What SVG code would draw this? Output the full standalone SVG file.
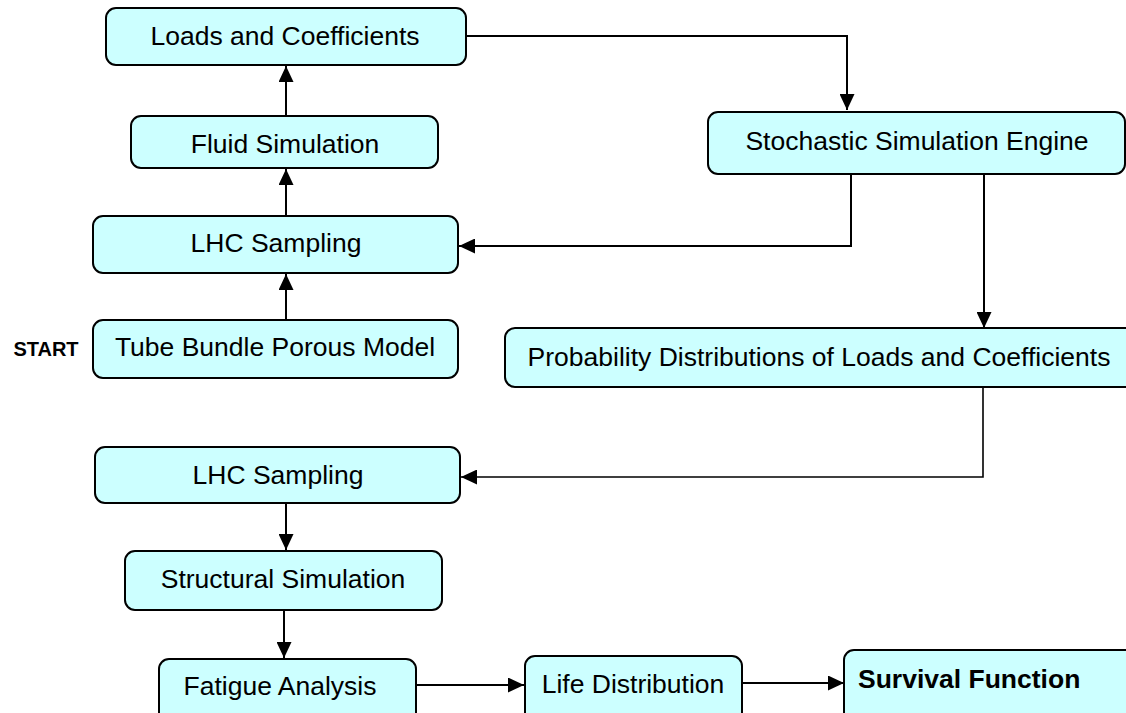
<svg xmlns="http://www.w3.org/2000/svg" width="1126" height="713" viewBox="0 0 1126 713">
<style>
.box{fill:#CCFFFF;stroke:#000;stroke-width:2}
.t{font-family:"Liberation Sans",Arial,sans-serif;font-size:26.5px;fill:#000;text-anchor:middle}
.b{font-weight:bold}
.c{fill:none;stroke:#000;stroke-width:2}
</style>
<defs>
<marker id="ah" viewBox="0 0 16 15" refX="16" refY="7.5" markerWidth="16" markerHeight="15" markerUnits="userSpaceOnUse" orient="auto">
<path d="M0,0 L16,7.5 L0,15 Z" fill="#000"/>
</marker>
</defs>
<rect width="1126" height="713" fill="#fff"/>
<g id="connectors">
<path class="c" d="M286,116 V66" marker-end="url(#ah)"/>
<path class="c" d="M286,216 V169" marker-end="url(#ah)"/>
<path class="c" d="M286,320 V274" marker-end="url(#ah)"/>
<path class="c" d="M466,36 H847 V110" marker-end="url(#ah)"/>
<path class="c" d="M851,175 V246 H459" marker-end="url(#ah)"/>
<path class="c" d="M984,173 V328" marker-end="url(#ah)"/>
<path class="c" style="stroke-width:1.6" d="M983,387 V477 H461" marker-end="url(#ah)"/>
<path class="c" d="M286,501 V550" marker-end="url(#ah)"/>
<path class="c" d="M284,610 V658" marker-end="url(#ah)"/>
<path class="c" d="M416,685 H524" marker-end="url(#ah)"/>
<path class="c" d="M742,683 H844" marker-end="url(#ah)"/>
</g>
<g id="n-loads"><rect class="box" x="106" y="8" width="360" height="57" rx="10"/><text class="t" x="285" y="45">Loads and Coefficients</text></g>
<g id="n-fluid"><rect class="box" x="131" y="116" width="307" height="52" rx="10"/><text class="t" x="285" y="153">Fluid Simulation</text></g>
<g id="n-lhc1"><rect class="box" x="93" y="216" width="365" height="57" rx="10"/><text class="t" x="276" y="252">LHC Sampling</text></g>
<g id="n-tube"><rect class="box" x="93" y="320" width="365" height="58" rx="10"/><text class="t" x="275" y="356">Tube Bundle Porous Model</text></g>
<g id="n-start"><text class="t b" x="46" y="356" style="font-size:20px">START</text></g>
<g id="n-stoch"><rect class="box" x="708" y="112" width="417" height="62" rx="10"/><text class="t" x="917" y="150">Stochastic Simulation Engine</text></g>
<g id="n-prob"><rect class="box" x="505" y="328" width="630" height="59" rx="10"/><text class="t" x="819" y="366">Probability Distributions of Loads and Coefficients</text></g>
<g id="n-lhc2"><rect class="box" x="95" y="447" width="365" height="56" rx="10"/><text class="t" x="278" y="484">LHC Sampling</text></g>
<g id="n-struct"><rect class="box" x="125" y="551" width="317" height="59" rx="10"/><text class="t" x="283" y="588">Structural Simulation</text></g>
<g id="n-fatigue"><rect class="box" x="159" y="659" width="257" height="70" rx="10"/><text class="t" x="280" y="695">Fatigue Analysis</text></g>
<g id="n-life"><rect class="box" x="525" y="656" width="217" height="70" rx="10"/><text class="t" x="633" y="693">Life Distribution</text></g>
<g id="n-survival"><rect class="box" x="844" y="650" width="300" height="80" rx="10"/><text class="t b" x="858" y="688" style="text-anchor:start">Survival Function</text></g>
</svg>
